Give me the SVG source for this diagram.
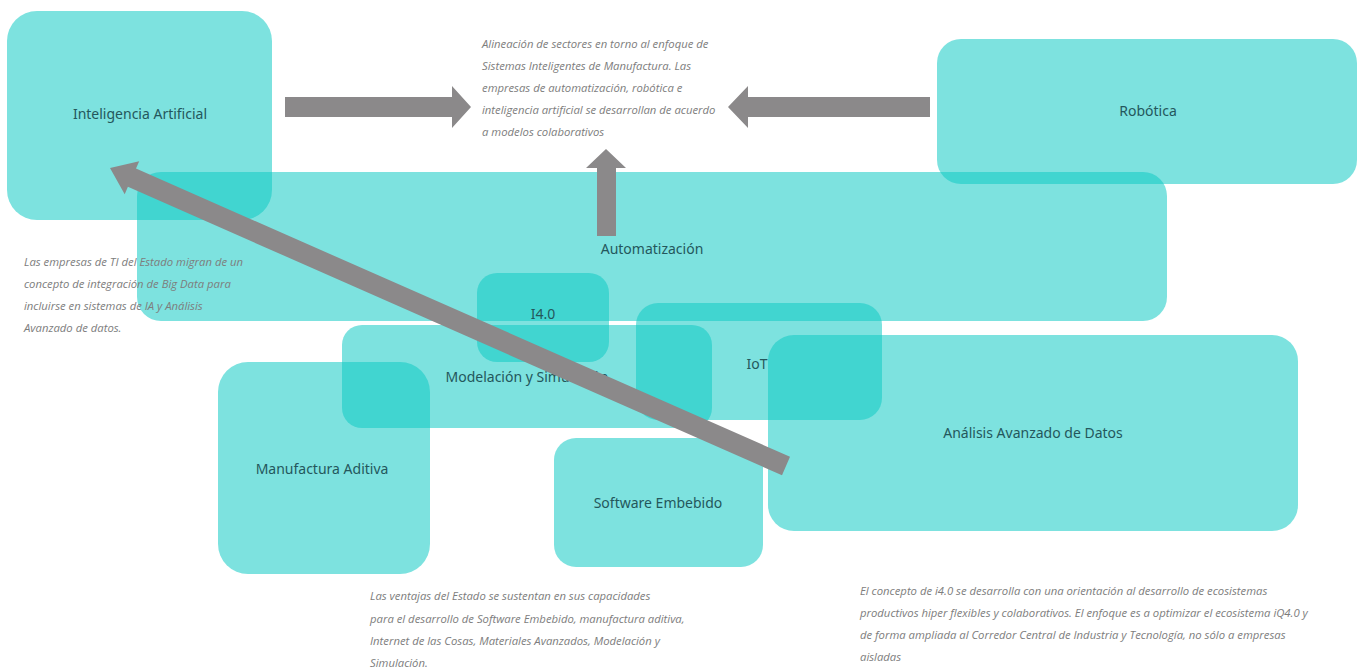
<svg xmlns="http://www.w3.org/2000/svg" width="1364" height="668" viewBox="0 0 1364 668">
<style>
.box{fill:#0fcac3;fill-opacity:0.54}
.lbl{font-family:"Noto Sans","Open Sans",sans-serif;font-size:14px;fill:#24575c;text-anchor:middle}
.note{font-family:"Open Sans","Noto Sans",sans-serif;font-size:11.3px;font-style:italic;fill:#7d7d7d}
.arr{fill:#8b898a}
</style>
<rect width="1364" height="668" fill="#ffffff"/>
<g id="node-ia"><rect class="box" x="7" y="11" width="265" height="209" rx="30"/><text class="lbl" x="140" y="119">Inteligencia Artificial</text></g>
<g id="node-robotica"><rect class="box" x="937" y="39" width="420" height="145" rx="24"/><text class="lbl" x="1148" y="116">Robótica</text></g>
<g id="node-automatizacion"><rect class="box" x="137" y="172" width="1030" height="149" rx="24"/><text class="lbl" x="652" y="254">Automatización</text></g>
<g id="node-i40"><rect class="box" x="477" y="273" width="132" height="89" rx="20"/><text class="lbl" x="543" y="319">I4.0</text></g>
<g id="node-modelacion"><rect class="box" x="342" y="325" width="370" height="103" rx="20"/><text class="lbl" x="527" y="382">Modelación y Simulación</text></g>
<g id="node-iot"><rect class="box" x="636" y="303" width="246" height="117" rx="22"/><text class="lbl" x="757" y="369">IoT</text></g>
<g id="node-analisis"><rect class="box" x="768" y="335" width="530" height="196" rx="26"/><text class="lbl" x="1033" y="438">Análisis Avanzado de Datos</text></g>
<g id="node-manufactura"><rect class="box" x="218" y="362" width="212" height="212" rx="30"/><text class="lbl" x="322" y="474">Manufactura Aditiva</text></g>
<g id="node-software"><rect class="box" x="554" y="438" width="209" height="129" rx="22"/><text class="lbl" x="658" y="508">Software Embebido</text></g>
<g id="notes">
<text class="note"><tspan x="482" y="48">Alineación de sectores en torno al enfoque de</tspan><tspan x="482" y="70">Sistemas Inteligentes de Manufactura. Las</tspan><tspan x="482" y="92">empresas de automatización, robótica e</tspan><tspan x="482" y="114">inteligencia artificial se desarrollan de acuerdo</tspan><tspan x="482" y="136">a modelos colaborativos</tspan></text>
<text class="note"><tspan x="24" y="266">Las empresas de TI del Estado migran de un</tspan><tspan x="24" y="288">concepto de integración de Big Data para</tspan><tspan x="24" y="310">incluirse en sistemas de IA y Análisis</tspan><tspan x="24" y="332">Avanzado de datos.</tspan></text>
<text class="note"><tspan x="370" y="600">Las ventajas del Estado se sustentan en sus capacidades</tspan><tspan x="370" y="623">para el desarrollo de Software Embebido, manufactura aditiva,</tspan><tspan x="370" y="645">Internet de las Cosas, Materiales Avanzados, Modelación y</tspan><tspan x="370" y="667">Simulación.</tspan></text>
<text class="note"><tspan x="860" y="595">El concepto de i4.0 se desarrolla con una orientación al desarrollo de ecosistemas</tspan><tspan x="860" y="617">productivos hiper flexibles y colaborativos. El enfoque es a optimizar el ecosistema iQ4.0 y</tspan><tspan x="860" y="639">de forma ampliada al Corredor Central de Industria y Tecnología, no sólo a empresas</tspan><tspan x="860" y="661">aisladas</tspan></text>
</g>
<g id="connectors">
<polygon class="arr" points="285,97 452,97 452,86 471,107 452,128 452,117 285,117"/>
<polygon class="arr" points="930,97 748,97 748,86 728,107 748,128 748,117 930,117"/>
<polygon class="arr" points="597,236 597,168 586,168 606,149 626,168 616,168 616,236"/>
<polygon class="arr" points="110,168 139.2,161.2 136,168.5 790,456.8 782,475.2 127.9,186.8 124.7,194.2"/>
</g>
</svg>
